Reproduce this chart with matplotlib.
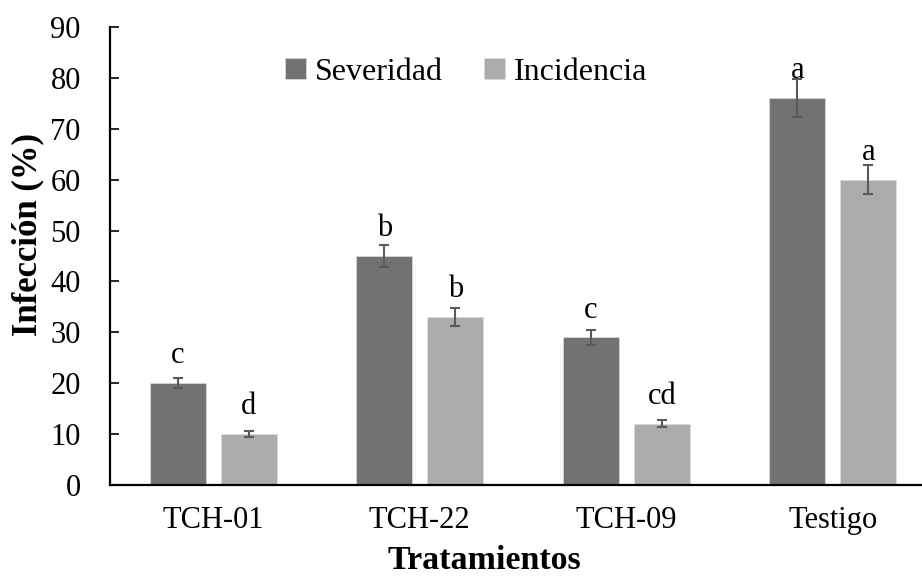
import matplotlib
matplotlib.use("Agg")
import matplotlib.pyplot as plt
import numpy as np

# data
categories = ["TCH-01", "TCH-22", "TCH-09", "Testigo"]
severidad = [20, 45, 29, 76]
severidad_err = [1.0, 2.2, 1.4, 3.7]
incidencia = [10, 33, 12, 60]
incidencia_err = [0.6, 1.8, 0.7, 2.9]
sev_letters = ["c", "b", "c", "a"]
inc_letters = ["d", "b", "cd", "a"]

plt.rcParams["font.family"] = ["Liberation Serif", "DejaVu Serif"]

W, H = 922, 577
fig = plt.figure(figsize=(W / 100, H / 100), dpi=100)
# axis spans x 110..936 px (runs off the right edge), y 27..485 px
ax = fig.add_axes([110 / W, 1 - 485 / H, 826 / W, 458 / H])

x = np.arange(len(categories))
w = 0.271
off = w / 2 + 0.0365
err_kw = dict(ecolor="#595959", elinewidth=1.5, capsize=3.8, capthick=1.5)

ax.bar(x - off, severidad, w, yerr=severidad_err, color="#727272",
       edgecolor="#dcdcdc", linewidth=0.5, label="Severidad", error_kw=err_kw)
ax.bar(x + off, incidencia, w, yerr=incidencia_err, color="#acacac",
       edgecolor="#dcdcdc", linewidth=0.5, label="Incidencia", error_kw=err_kw)

# significance letters sit a fixed distance above each bar top
for i in range(len(categories)):
    ax.text(x[i] - off, severidad[i] + 3.9, sev_letters[i],
            ha="center", va="baseline", fontsize=22)
    ax.text(x[i] + off, incidencia[i] + 3.9, inc_letters[i],
            ha="center", va="baseline", fontsize=22)

ax.set_xlim(-0.5, 3.5)
ax.set_ylim(0, 90)
ax.set_yticks(np.arange(0, 91, 10))
ax.set_xticks(x)
ax.set_xticklabels(categories)
ax.tick_params(axis="both", labelsize=22, colors="black")
ax.tick_params(axis="x", length=0, pad=15)
ax.tick_params(axis="y", length=6.5, width=1.2, direction="in", pad=21)
for s in ["top", "right"]:
    ax.spines[s].set_visible(False)
for s in ["left", "bottom"]:
    ax.spines[s].set_linewidth(1.6)

fig.text(28 / W, 1 - 235 / H, "Infección (%)", rotation=90, ha="center",
         va="center", fontsize=25, fontweight="bold")
fig.text(484 / W, 1 - 569 / H, "Tratamientos", ha="center", va="baseline",
         fontsize=24.5, fontweight="bold")

fig.legend(*ax.get_legend_handles_labels(), loc="center",
           bbox_to_anchor=(466 / W, 1 - 72 / H), ncol=2, frameon=False,
           fontsize=23, handlelength=0.65, handleheight=0.65,
           handletextpad=0.27, columnspacing=1.3, borderpad=0)

fig.savefig("out.png", dpi=100)
